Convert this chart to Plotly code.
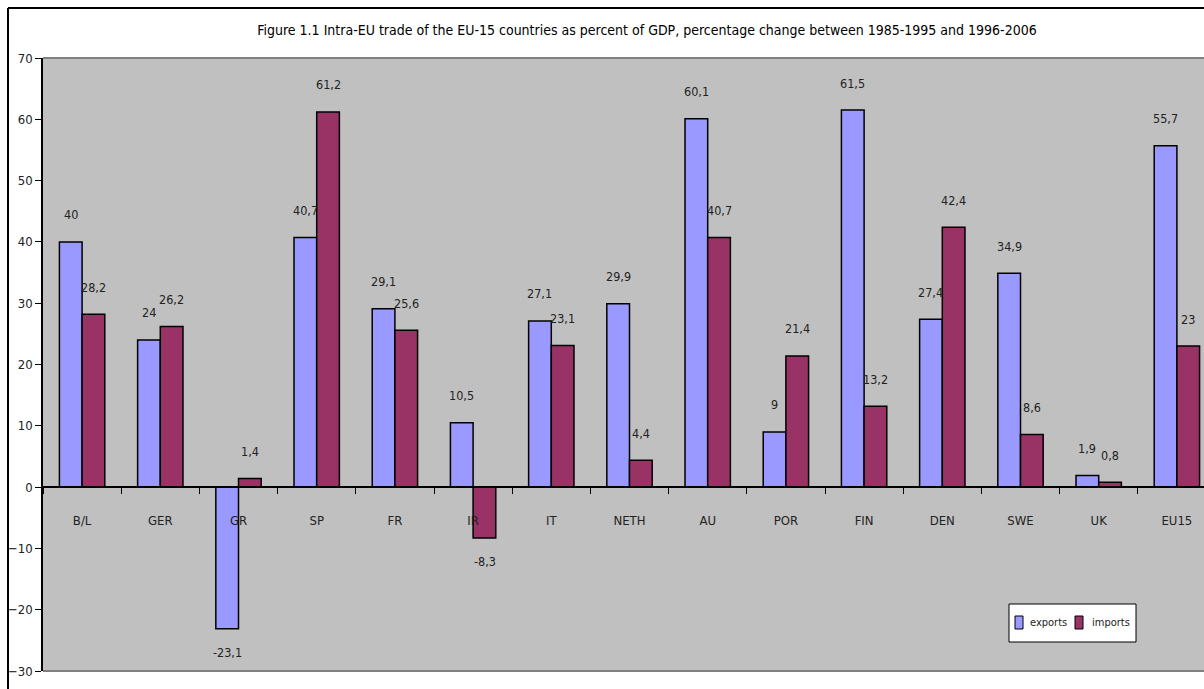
import plotly.graph_objects as go

countries = ["B/L", "GER", "GR", "SP", "FR", "IR", "IT", "NETH", "AU",
             "POR", "FIN", "DEN", "SWE", "UK", "EU15"]
exports = [40, 24, -23.1, 40.7, 29.1, 10.5, 27.1, 29.9, 60.1,
           9, 61.5, 27.4, 34.9, 1.9, 55.7]
imports = [28.2, 26.2, 1.4, 61.2, 25.6, -8.3, 23.1, 4.4, 40.7,
           21.4, 13.2, 42.4, 8.6, 0.8, 23]
y_ticks = list(range(-30, 71, 10))
series_names = ["exports", "imports"]
series_colors = ["#9999FF", "#993366"]

FONT = "DejaVu Sans Condensed, Liberation Sans Narrow, sans-serif"
TEXT = "#222222"
W, H = 1204, 689
L, R, T, B = 43, 0, 58, 18
pw, ph = W - L - R, H - T - B
cat_px = 78.2
x_hi = -0.5 + pw / cat_px


def fmt(v):
    return f"{v:g}".replace(".", ",")


def px(x):
    """page x pixel -> paper fraction"""
    return (x - L) / pw


def py(y):
    """page y pixel -> paper fraction"""
    return (H - B - y) / ph


fig = go.Figure()
for name, color, vals in zip(series_names, series_colors, (exports, imports)):
    fig.add_trace(go.Bar(x=countries, y=vals, name=name, showlegend=False,
                         marker=dict(color=color, line=dict(color="black", width=1.5))))

# value labels above (or below) each bar
half = 11.5
for vals, shift in ((exports, -half), (imports, half)):
    for c, v in zip(countries, vals):
        fig.add_annotation(x=c, y=v, text=fmt(v), showarrow=False,
                           xshift=shift, yshift=27 if v >= 0 else -24,
                           font=dict(family=FONT, size=12.5, color=TEXT))

shapes = [
    # plot-area frame top and bottom
    dict(type="line", xref="paper", yref="paper", x0=0, x1=1, y0=1, y1=1,
         line=dict(color="#808080", width=2)),
    dict(type="line", xref="paper", yref="paper", x0=0, x1=1, y0=0, y1=0,
         line=dict(color="#808080", width=2)),
    # outer chart border
    dict(type="line", xref="paper", yref="paper", x0=px(8), x1=px(8),
         y0=py(8), y1=py(700), line=dict(color="black", width=2)),
    dict(type="line", xref="paper", yref="paper", x0=px(8), x1=px(1220),
         y0=py(8), y1=py(8), line=dict(color="black", width=2)),
    # legend box
    dict(type="rect", xref="paper", yref="paper", x0=px(1009), x1=px(1136),
         y0=py(642), y1=py(604), fillcolor="white", line=dict(color="black", width=1)),
]

# legend keys
key_x = [1015, 1075]
text_x = [1028, 1090]
for name, color, kx, tx in zip(series_names, series_colors, key_x, text_x):
    shapes.append(dict(type="rect", xref="paper", yref="paper",
                       x0=px(kx), x1=px(kx + 8), y0=py(629), y1=py(616),
                       fillcolor=color, line=dict(color="black", width=1)))
    fig.add_annotation(xref="paper", yref="paper", x=px(tx), y=py(622),
                       xanchor="left", yanchor="middle", text=name, showarrow=False,
                       font=dict(family=FONT, size=11, color=TEXT))

fig.update_layout(
    width=W, height=H,
    margin=dict(l=L, r=R, t=T, b=B, pad=0),
    paper_bgcolor="white", plot_bgcolor="#C0C0C0",
    barmode="group", bargap=0.42, bargroupgap=0,
    showlegend=False,
    title=dict(text="Figure 1.1 Intra-EU trade of the EU-15 countries as percent of GDP, "
                    "percentage change between 1985-1995 and 1996-2006",
               x=647 / W, xanchor="center", y=1 - 30 / H, yanchor="middle",
               font=dict(family=FONT, size=14, color="black")),
    font=dict(family=FONT),
    xaxis=dict(type="category", range=[-0.5, x_hi], anchor="free", position=0.3,
               showline=True, linecolor="black", linewidth=1.5,
               ticks="outside", tickson="boundaries", ticklen=6, tickcolor="black",
               ticklabelstandoff=22, showgrid=False, zeroline=False,
               tickfont=dict(family=FONT, size=13, color=TEXT)),
    yaxis=dict(range=[-30, 70], tickvals=y_ticks, ticks="outside", ticklen=6,
               tickcolor="black", showline=True, linecolor="black", linewidth=1.5,
               showgrid=False, zeroline=False,
               tickfont=dict(family=FONT, size=13, color=TEXT)),
    shapes=shapes,
)

fig.write_html("out.html")
